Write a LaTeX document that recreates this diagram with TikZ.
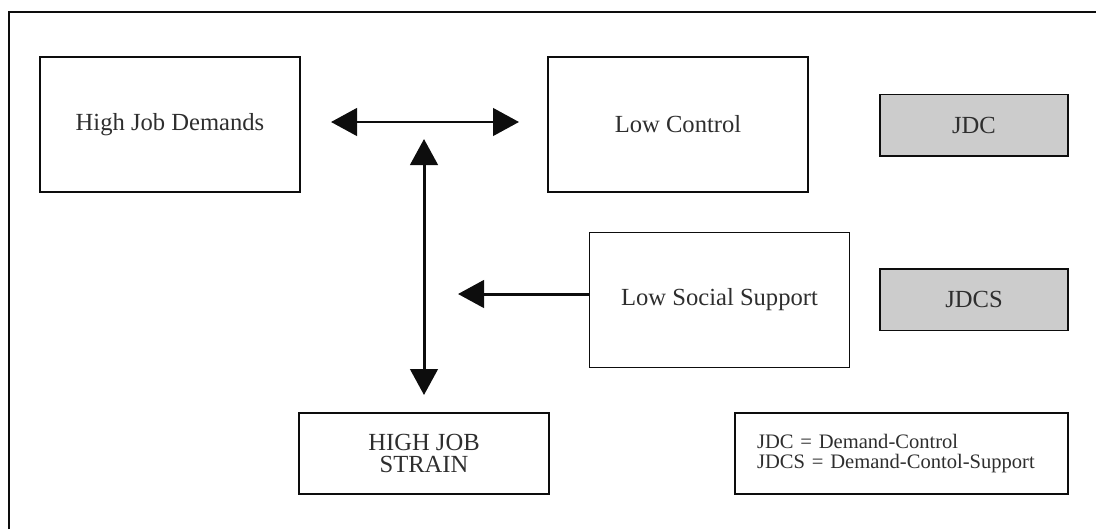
\documentclass[tikz,border=0pt]{standalone}
\usepackage{fontspec}
\setmainfont{Liberation Serif}
\usetikzlibrary{arrows.meta,calc}
\definecolor{JDInk}{gray}{0.05}
\definecolor{JDText}{gray}{0.18}
\definecolor{JDShade}{gray}{0.80}
\tikzset{
    jd/diagram/.style={
        draw=JDInk,
        text=JDText,
        line width=0.8pt,
        font=\fontsize{14}{13}\selectfont,
        every node/.style={inner sep=2pt, outer sep=0pt}
    },
    jd/frame/.style={draw=JDInk, line width=0.8pt},
    jd/factor/.style={
        draw=JDInk, line width=0.85pt, align=center,
        minimum width=5.2cm, minimum height=2.7cm
    },
    jd/outcome/.style={
        draw=JDInk, line width=0.85pt, align=center,
        minimum width=5.0cm, minimum height=1.62cm
    },
    jd/model/.style={
        draw=JDInk, line width=0.85pt, fill=JDShade,
        minimum width=3.76cm, minimum height=1.23cm
    },
    jd/legend/.style={
        draw=JDInk, line width=0.85pt, align=left,
        text width=5.78cm, inner xsep=0.44cm, minimum height=1.62cm,
        font=\fontsize{11.7}{11.3}\selectfont
    },
    jd/effect/.style={
        draw=JDInk, line width=1.7pt,
        -{Triangle[length=0.52cm, width=0.55cm]}
    },
    jd/mutual/.style={
        draw=JDInk, line width=1.7pt,
        {Triangle[length=0.52cm, width=0.55cm]}-{Triangle[length=0.52cm, width=0.55cm]}
    }
}

\begin{document}
\begin{tikzpicture}[jd/diagram]
    \useasboundingbox (0,0) rectangle (21.92,10.58);
    \draw[jd/frame] (0.18,0) -- (0.18,10.34) -- (21.92,10.34);
    \node[jd/factor] (Demands) at (3.40,8.09) {High Job Demands};
    \node[jd/factor] (Control) at (13.56,8.09) {Low Control};
    \node[jd/model] (JDC) at (19.48,8.08) {JDC};
    \node[jd/factor] (Support) at (14.39,4.58) {Low Social Support};
    \node[jd/model] (JDCS) at (19.48,4.59) {JDCS};
    \node[jd/outcome] (Strain) at (8.48,1.51) {HIGH JOB\\STRAIN};
    \node[jd/legend] (Legend) at (18.03,1.51)
        {JDC = Demand-Control\\JDCS = Demand-Contol-Support};
    \draw[jd/mutual, shorten <=0.62cm, shorten >=0.58cm]
        ([yshift=0.05cm]Demands.east) -- ([yshift=0.05cm]Demands.east -| Control.west);
    \coordinate (Hub) at ($(Demands.east)!0.5!(Control.west)$);
    \draw[jd/mutual, shorten <=0.29cm, shorten >=0.36cm] (Hub) -- (Hub |- Strain.north);
    \coordinate (Join) at ([xshift=0.68cm, yshift=0.12cm]Hub |- Support.west);
    \draw[jd/effect] ([yshift=0.12cm]Support.west) -- (Join);
\end{tikzpicture}
\end{document}
